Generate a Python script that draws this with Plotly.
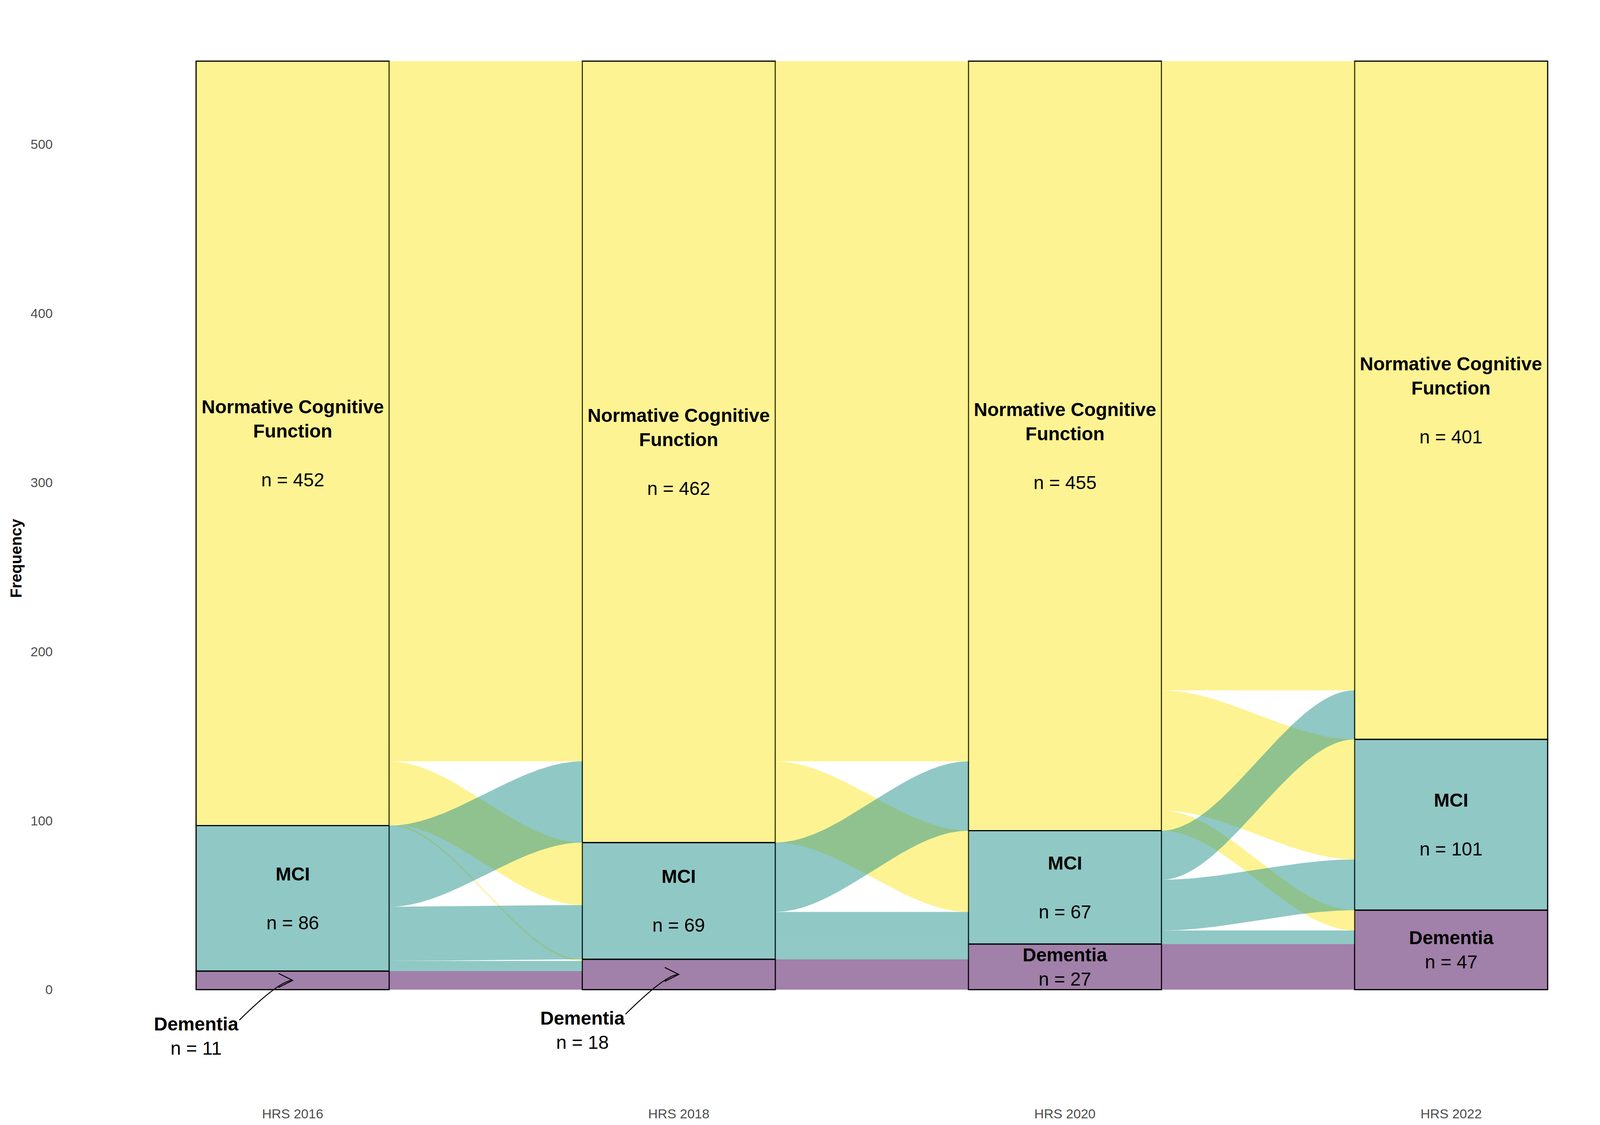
import numpy as np
import plotly.graph_objects as go

# Waves (x axis) and cognitive states, listed bottom to top
WAVES = ["HRS 2016", "HRS 2018", "HRS 2020", "HRS 2022"]
STATES = ["Dementia", "MCI", "Normative Cognitive Function"]

# Transition counts between consecutive waves: rows = from-state, cols = to-state
FLOW_2016_2018 = [[11, 0, 0], [6, 32, 48], [1, 37, 414]]
FLOW_2018_2020 = [[18, 0, 0], [9, 19, 41], [0, 48, 414]]
FLOW_2020_2022 = [[27, 0, 0], [8, 30, 29], [12, 71, 372]]
TRANSITIONS = [FLOW_2016_2018, FLOW_2018_2020, FLOW_2020_2022]

# Styling
COLORS = {
    "Dementia": "rgba(68, 1, 84, 0.5)",
    "MCI": "rgba(33, 145, 140, 0.5)",
    "Normative Cognitive Function": "rgba(253, 231, 37, 0.5)",
}
LABEL_NAMES = {
    "Dementia": "Dementia",
    "MCI": "MCI",
    "Normative Cognitive Function": "Normative Cognitive<br>Function",
}
FONT = "Liberation Sans, Arial, sans-serif"
TICK_GREY = "#4D4D4D"
STRATUM_WIDTH = 0.5
SMALL_STRATUM = 20  # strata smaller than this get an outside label with arrow

WIDTH, HEIGHT = 4320, 2880
MARGIN = dict(l=148, r=20, t=23, b=60)
X_RANGE = [0.4, 4.6]
Y_RANGE = [-68, 578]


def stratum_counts():
    counts = [np.array(TRANSITIONS[0]).sum(axis=1)]
    for trans in TRANSITIONS:
        counts.append(np.array(trans).sum(axis=0))
    return np.array(counts)  # shape (waves, states)


def smooth(t):
    return 3 * t ** 2 - 2 * t ** 3


def create_alluvial():
    counts = stratum_counts()
    bases = np.hstack([np.zeros((len(WAVES), 1)), np.cumsum(counts, axis=1)[:, :-1]])

    # pixels per data unit, used to size the arrow heads
    px_x = (WIDTH - MARGIN["l"] - MARGIN["r"]) / (X_RANGE[1] - X_RANGE[0])
    px_y = (HEIGHT - MARGIN["t"] - MARGIN["b"]) / (Y_RANGE[1] - Y_RANGE[0])

    fig = go.Figure()

    # Flows (Normative first, then MCI, then Dementia so teal sits on top of yellow)
    t = np.linspace(0, 1, 80)
    for k, trans in enumerate(TRANSITIONS):
        trans = np.array(trans)
        x0 = k + 1 + STRATUM_WIDTH / 2
        x1 = k + 2 - STRATUM_WIDTH / 2
        xs = x0 + (x1 - x0) * t

        left = np.zeros_like(trans, dtype=float)
        for s in range(len(STATES)):
            pos = bases[k, s]
            for d in range(len(STATES)):
                left[s, d] = pos
                pos += trans[s, d]
        right = np.zeros_like(trans, dtype=float)
        for d in range(len(STATES)):
            pos = bases[k + 1, d]
            for s in range(len(STATES)):
                right[s, d] = pos
                pos += trans[s, d]

        for s in reversed(range(len(STATES))):
            for d in range(len(STATES)):
                v = trans[s, d]
                if v <= 0:
                    continue
                lo = left[s, d] + (right[s, d] - left[s, d]) * smooth(t)
                hi = lo + v
                fig.add_trace(go.Scatter(
                    x=np.concatenate([xs, xs[::-1]]),
                    y=np.concatenate([lo, hi[::-1]]),
                    mode="lines", line=dict(width=0),
                    fill="toself", fillcolor=COLORS[STATES[s]],
                    hoverinfo="skip", showlegend=False
                ))

    # Strata
    xpos = np.arange(1, len(WAVES) + 1)
    for i, state in enumerate(STATES):
        fig.add_trace(go.Bar(
            x=xpos, y=counts[:, i], base=bases[:, i],
            width=STRATUM_WIDTH,
            marker=dict(color=COLORS[state], line=dict(color="black", width=3)),
            name=state, showlegend=False, hoverinfo="skip"
        ))

    # Stratum labels
    annotations = []
    shapes = []
    for w in range(len(WAVES)):
        for i, state in enumerate(STATES):
            n = int(counts[w, i])
            mid = bases[w, i] + n / 2
            name = "<br>".join("<b>%s</b>" % part for part in LABEL_NAMES[state].split("<br>"))
            if n >= SMALL_STRATUM:
                gap = "<br>" if state == "Dementia" else "<br><br>"
                annotations.append(dict(
                    x=w + 1, y=mid, xref="x", yref="y",
                    text=name + gap + "n = %d" % n, showarrow=False,
                    font=dict(family=FONT, size=48, color="black"),
                    xanchor="center", yanchor="middle", align="center"
                ))
            else:
                # outside label bottom-left of stratum with a curved arrow
                lx = w + 1 - STRATUM_WIDTH / 2
                ly = -27.5 if w == 0 else -24
                annotations.append(dict(
                    x=lx, y=ly, xref="x", yref="y",
                    text=name + "<br>n = %d" % n, showarrow=False,
                    font=dict(family=FONT, size=48, color="black"),
                    xanchor="center", yanchor="middle", align="center"
                ))
                sx, sy = w + 1 - 0.138, ly + 9.5
                tx, ty = w + 1, mid
                cx, cy = tx - 0.034, ty
                shapes.append(dict(
                    type="path", xref="x", yref="y",
                    path="M %f,%f Q %f,%f %f,%f" % (sx, sy, cx, cy, tx, ty),
                    line=dict(color="black", width=2.5)
                ))
                # open arrow head: two arms, 40 px long, ~27 degrees off the shaft
                dx, dy = 36 / px_x, 18 / px_y
                shapes.append(dict(
                    type="path", xref="x", yref="y",
                    path="M %f,%f L %f,%f L %f,%f" % (tx - dx, ty + dy, tx, ty, tx - dx, ty - dy),
                    line=dict(color="black", width=2.5)
                ))

    fig.update_layout(
        width=WIDTH, height=HEIGHT,
        paper_bgcolor="white", plot_bgcolor="white",
        margin=MARGIN,
        barmode="overlay",
        showlegend=False,
        annotations=annotations,
        shapes=shapes,
        xaxis=dict(
            range=X_RANGE, tickvals=list(xpos), ticktext=WAVES,
            showgrid=False, zeroline=False, showline=False, ticks="",
            tickfont=dict(family=FONT, size=34, color=TICK_GREY)
        ),
        yaxis=dict(
            range=Y_RANGE, tickvals=[0, 100, 200, 300, 400, 500],
            showgrid=False, zeroline=False, showline=False, ticks="",
            ticklabelstandoff=20,
            tickfont=dict(family=FONT, size=34, color=TICK_GREY),
            title=dict(text="<b>Frequency</b>", standoff=10,
                       font=dict(family=FONT, size=40, color="black"))
        )
    )

    fig.write_html("out.html")


if __name__ == "__main__":
    create_alluvial()
